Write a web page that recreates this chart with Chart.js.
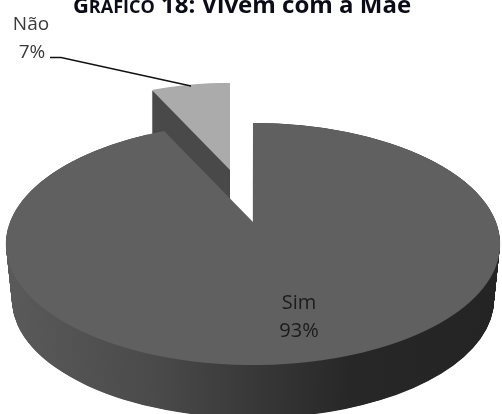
<!DOCTYPE html>
<html><head><meta charset="utf-8">
<style>html,body{margin:0;padding:0;background:#fff;overflow:hidden}canvas{display:block;filter:blur(0.4px)}</style>
<script src="https://cdn.jsdelivr.net/npm/chart.js@4"></script>
</head><body><canvas id="c" width="502" height="414"></canvas>
<script>
const categories = ["Sim", "Não"];
const percentages = [93, 7];
const titleParts = [["G", 22], ["RÁFICO", 18], [" 18: Vivem com a Mãe", 24]];

// Perspective of the tilted disc: apex position, half widths and the foreshortening term.
const view = {apexX: 253, apexY: 222, a: 117, b: 243, c: -0.182};
const nearSlice = {dx: -23, dy: -52, scale: 0.88, depth: 43};
const wall = {cx: 253, top: [244, 121, 247], bottom: [300, 118, 241]};
const faceColors = ["#606060", "#ababab"];
const sideColor = "#494949";

function restyled(arc, color) {
  const c = Object.create(arc);
  c.options = {backgroundColor: color, borderWidth: 0, borderColor: color, borderAlign: "center",
    borderRadius: 0, circular: true, offset: 0, spacing: 0, borderJoinStyle: "round"};
  return c;
}
function drawDisc(ctx, arc, color, place) {
  const s = place.scale, ax = view.apexX + place.dx, ay = view.apexY + place.dy + (place.shift || 0);
  const y0 = Math.floor(ay - 99 * s) - 1, y1 = Math.ceil(ay + 143 * s) + 1;
  const R = arc.outerRadius, el = restyled(arc, color);
  for (let y = Math.max(0, y0); y < Math.min(414, y1); y++) {
    const yy = (y + 0.5 - ay) / s;
    const v = yy / (view.a - view.c * yy), d = 1 + view.c * v;
    const sx = s * view.b / (d * R), sy = s * view.a / (d * d * R);
    ctx.save();
    ctx.beginPath(); ctx.rect(0, y, 502, 1); ctx.clip();
    ctx.setTransform(sx, 0, 0, sy, ax - arc.x * sx, y + 0.5 - (v * R + arc.y) * sy);
    el.draw(ctx);
    ctx.restore();
  }
}
const scene = {
  id: "scene",
  beforeDatasetsDraw(chart) {
    const ctx = chart.ctx, [big, small] = chart.getDatasetMeta(0).data;
    // cut face of the pulled-out slice
    for (let k = nearSlice.depth; k >= 1; k -= 1) drawDisc(ctx, small, sideColor, {...nearSlice, shift: k});
    drawDisc(ctx, small, faceColors[1], nearSlice);
    // rim of the large slice
    const R = big.outerRadius;
    const g = ctx.createLinearGradient(big.x - R, 0, big.x + R, 0);
    g.addColorStop(0, "#5a5a5a"); g.addColorStop(0.3, "#4a4a4a"); g.addColorStop(0.55, "#343434");
    g.addColorStop(0.7, "#272727"); g.addColorStop(1, "#242424");
    const el = restyled(big, g);
    for (let i = 112; i >= 0; i--) {
      const t = i / 112;
      const cy = wall.top[0] + t * (wall.bottom[0] - wall.top[0]);
      const ry = wall.top[1] + t * (wall.bottom[1] - wall.top[1]);
      const rx = wall.top[2] + t * (wall.bottom[2] - wall.top[2]);
      ctx.save();
      ctx.setTransform(rx / R, 0, 0, ry / R, wall.cx - big.x * rx / R, cy - big.y * ry / R);
      el.draw(ctx);
      ctx.restore();
    }
    drawDisc(ctx, big, faceColors[0], {dx: 0, dy: 0, scale: 1});
    return false;
  },
  afterDraw(chart) {
    const ctx = chart.ctx;
    ctx.save();
    ctx.textBaseline = "alphabetic"; ctx.textAlign = "left";
    // title
    ctx.fillStyle = "#0c0c18";
    let w = 0;
    titleParts.forEach(([t, size]) => { ctx.font = `bold ${size}px "Open Sans"`; w += ctx.measureText(t).width; });
    let x = 242 - w / 2;
    titleParts.forEach(([t, size]) => { ctx.font = `bold ${size}px "Open Sans"`; ctx.fillText(t, x, 13); x += ctx.measureText(t).width; });
    // data labels
    ctx.textAlign = "center";
    ctx.font = '19px "Open Sans"';
    ctx.fillStyle = "#3a3a3a";
    ctx.fillText(categories[1], 31, 30);
    ctx.fillText(percentages[1] + "%", 32, 58);
    ctx.font = '20px "Open Sans"';
    ctx.fillStyle = "#1c1c1c";
    ctx.fillText(categories[0], 299, 309);
    ctx.fillText(percentages[0] + "%", 299, 337);
    // leader line
    ctx.strokeStyle = "#111"; ctx.lineWidth = 1.4;
    ctx.beginPath(); ctx.moveTo(50, 57.5); ctx.lineTo(61, 57.5); ctx.lineTo(191, 86); ctx.stroke();
    ctx.restore();
  }
};
new Chart(document.getElementById("c"), {
  type: "pie",
  data: {labels: categories, datasets: [{data: percentages, backgroundColor: faceColors, borderWidth: 0}]},
  options: {responsive: false, animation: false, rotation: 0,
    plugins: {legend: {display: false}, tooltip: {enabled: false}}},
  plugins: [scene]
});
</script></body></html>
